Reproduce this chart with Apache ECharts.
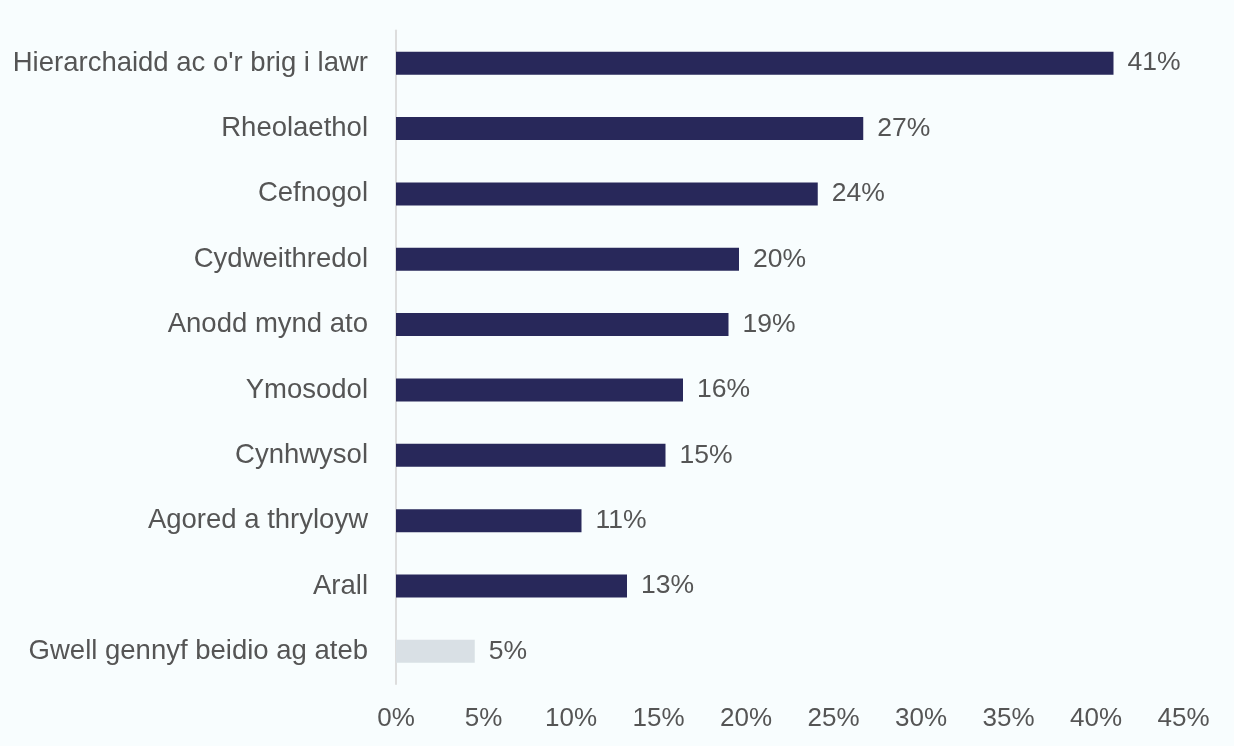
<!DOCTYPE html>
<html><head><meta charset="utf-8">
<script src="https://cdn.jsdelivr.net/npm/echarts@6/dist/echarts.min.js"></script>
<style>html,body{margin:0;padding:0;background:#f8fdfe;}#c{width:1234px;height:746px;}</style>
</head><body><div id="c"></div>
<script>
const categories = ["Hierarchaidd ac o'r brig i lawr","Rheolaethol","Cefnogol","Cydweithredol","Anodd mynd ato","Ymosodol","Cynhwysol","Agored a thryloyw","Arall","Gwell gennyf beidio ag ateb"];
const values = [41.0,26.7,24.1,19.6,19.0,16.4,15.4,10.6,13.2,4.5];
const valueLabels = ["41%","27%","24%","20%","19%","16%","15%","11%","13%","5%"];
const barColors = ["#28285a","#28285a","#28285a","#28285a","#28285a","#28285a","#28285a","#28285a","#28285a","#d9e0e5"];
const xTicks = [0,5,10,15,20,25,30,35,40,45];

const FONT = 'Liberation Sans, Arial, sans-serif';
const chart = echarts.init(document.getElementById('c'), null, {renderer:'canvas'});
chart.setOption({
  backgroundColor: '#f8fdfe',
  animation: false,
  grid: {left: 396, right: 50.5, top: 30.5, bottom: 62},
  xAxis: {
    type: 'value', min: xTicks[0], max: xTicks[xTicks.length-1], interval: 5,
    axisLine: {show: false}, axisTick: {show: false}, splitLine: {show: false},
    axisLabel: {formatter: v => v + '%', color: '#555', fontSize: 26, fontFamily: FONT, margin: 22}
  },
  yAxis: {
    type: 'category', data: categories, inverse: true,
    axisLine: {show: true, lineStyle: {color: '#dddddd', width: 2}},
    axisTick: {show: false},
    axisLabel: {color: '#555', fontSize: 27.5, fontFamily: FONT, margin: 28, padding: [7, 0, 0, 0]}
  },
  series: [{
    type: 'bar',
    data: values.map((v, i) => ({value: v, itemStyle: {color: barColors[i]}})),
    barWidth: 23,
    label: {show: true, position: 'right', distance: 14, formatter: p => valueLabels[p.dataIndex], color: '#555', fontSize: 26.5, fontFamily: FONT, padding: [7, 0, 0, 0]}
  }]
});
</script></body></html>
